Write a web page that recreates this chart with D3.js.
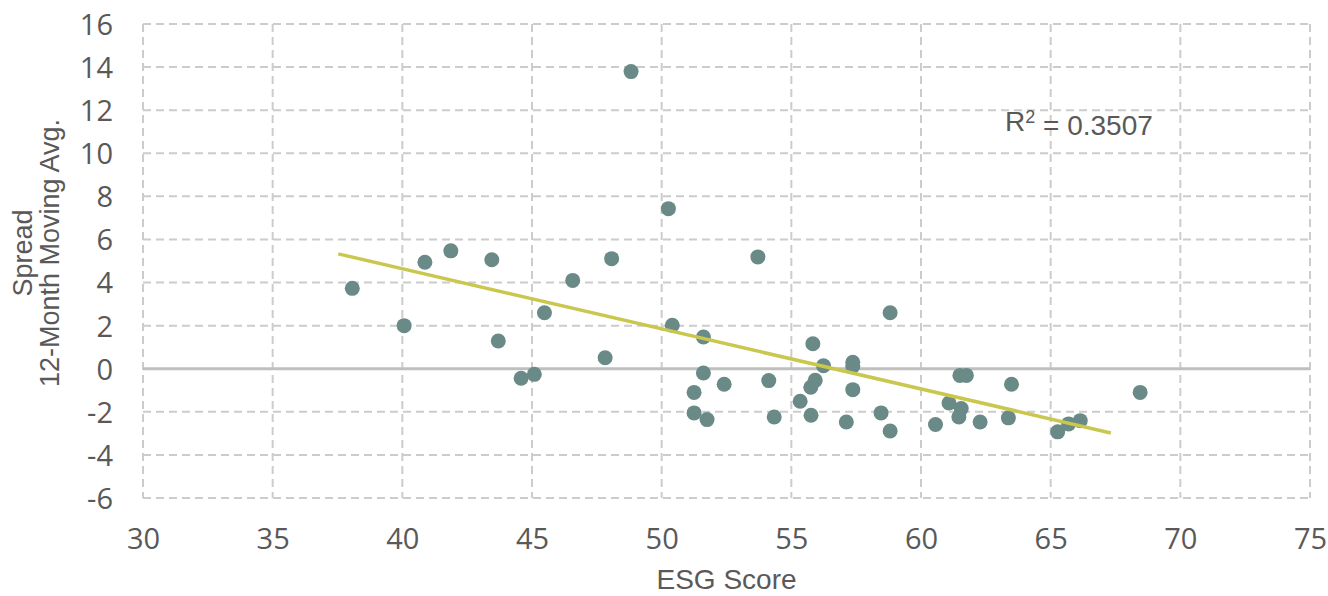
<!DOCTYPE html>
<html>
<head>
<meta charset="utf-8">
<script src="https://cdn.jsdelivr.net/npm/d3@7"></script>
<style>
  body { margin: 0; background: #fff; }
  .tick text { font-family: "Open Sans", sans-serif; font-size: 29px; fill: #595959; }
  .title { font-family: "Liberation Sans", Arial, sans-serif; font-size: 27px; fill: #595959; }
</style>
</head>
<body>
<div class="scatter"></div>
<script>
// DATA
var esgScore = [38.07, 40.07, 40.87, 41.87, 43.45, 43.70, 44.58, 45.09, 45.48, 46.57,
                47.82, 48.07, 48.82, 50.26, 50.41, 51.25, 51.25, 51.61, 51.61, 51.75,
                52.41, 53.71, 54.13, 54.34, 55.34, 55.75, 55.76, 55.83, 55.92, 56.24,
                57.12, 57.37, 57.37, 57.37, 58.46, 58.81, 58.81, 60.56, 61.08, 61.46,
                61.55, 61.50, 61.75, 62.28, 63.37, 63.49, 65.27, 65.69, 66.14, 68.45];
var spread = [3.73, 2.00, 4.94, 5.47, 5.06, 1.29, -0.44, -0.26, 2.60, 4.10,
              0.51, 5.11, 13.79, 7.43, 2.02, -1.10, -2.05, 1.47, -0.20, -2.36,
              -0.72, 5.19, -0.55, -2.24, -1.51, -0.86, -2.16, 1.16, -0.54, 0.14,
              -2.47, 0.30, 0.12, -0.97, -2.05, 2.60, -2.89, -2.59, -1.59, -2.24,
              -1.85, -0.31, -0.31, -2.47, -2.28, -0.72, -2.93, -2.56, -2.41, -1.10];
var trendX = [37.53, 67.32];
var trendY = [5.33, -2.98];
var xTicks = [30, 35, 40, 45, 50, 55, 60, 65, 70, 75];
var yTicks = [-6, -4, -2, 0, 2, 4, 6, 8, 10, 12, 14, 16];
var rSquared = "0.3507";

var width = 1328, height = 596;
var margin = {top: 24, right: 18, bottom: 98, left: 143};
var w = width - margin.left - margin.right,
    h = height - margin.top - margin.bottom;

var svg = d3.select(".scatter").append("svg")
    .attr("width", width)
    .attr("height", height)
  .append("g")
    .attr("transform", "translate(" + margin.left + "," + margin.top + ")");

var x = d3.scaleLinear().domain([30, 75]).range([0, w]);
var y = d3.scaleLinear().domain([-6, 16]).range([h, 0]);

// plain hyphen for negatives, like the original
var fmt = function(d) { return String(d); };

// dashed grid
svg.selectAll(".hgrid")
    .data(yTicks.filter(function(d) { return d !== 0; }))
  .enter().append("line")
    .attr("x1", 0).attr("x2", w)
    .attr("y1", function(d) { return y(d); })
    .attr("y2", function(d) { return y(d); })
    .attr("stroke", "#cccccc")
    .attr("stroke-width", 2)
    .attr("stroke-dasharray", "8,5");

svg.selectAll(".vgrid")
    .data(xTicks)
  .enter().append("line")
    .attr("y1", 0).attr("y2", h)
    .attr("x1", function(d) { return x(d); })
    .attr("x2", function(d) { return x(d); })
    .attr("stroke", "#cccccc")
    .attr("stroke-width", 2)
    .attr("stroke-dasharray", "8,5");

// zero line
svg.append("line")
    .attr("x1", 0).attr("x2", w)
    .attr("y1", y(0)).attr("y2", y(0))
    .attr("stroke", "#bfbfbf")
    .attr("stroke-width", 3);

// axes (labels only)
var yAxis = svg.append("g")
    .call(d3.axisLeft(y).tickValues(yTicks).tickFormat(fmt).tickSize(0).tickPadding(30));
yAxis.select(".domain").remove();
yAxis.selectAll(".tick text").attr("dy", "0.36em");

var xAxis = svg.append("g")
    .attr("transform", "translate(0," + h + ")")
    .call(d3.axisBottom(x).tickValues(xTicks).tickFormat(fmt).tickSize(0).tickPadding(30));
xAxis.select(".domain").remove();

// points
svg.selectAll(".dot")
    .data(esgScore)
  .enter().append("circle")
    .attr("class", "dot")
    .attr("cx", function(d) { return x(d); })
    .attr("cy", function(d, i) { return y(spread[i]); })
    .attr("r", 7.5)
    .attr("fill", "#6a8a88");

// trend line
var line = d3.line()
    .x(function(d) { return x(d); })
    .y(function(d, i) { return y(trendY[i]); });

svg.append("path")
    .datum(trendX)
    .attr("d", line)
    .attr("fill", "none")
    .attr("stroke", "#c9c74d")
    .attr("stroke-width", 3.5);

// R² label
var r2 = svg.append("text")
    .attr("class", "title")
    .attr("x", x(63.24))
    .attr("y", y(11.05))
    .style("font-size", "28px");
r2.append("tspan").text("R");
r2.append("tspan").attr("dy", "-0.4em").style("font-size", "18px").text("2");
r2.append("tspan").attr("dy", "0.4em").text(" = " + rSquared);

// axis titles
svg.append("text")
    .attr("class", "title")
    .attr("text-anchor", "middle")
    .attr("x", w / 2)
    .attr("y", h + 91)
    .style("font-size", "28px")
    .text("ESG Score");

svg.append("text")
    .attr("class", "title")
    .attr("text-anchor", "middle")
    .attr("transform", "translate(" + (-111) + "," + (h / 2 - 8) + ") rotate(-90)")
    .text("Spread");

svg.append("text")
    .attr("class", "title")
    .attr("text-anchor", "middle")
    .attr("transform", "translate(" + (-84) + "," + (h / 2 - 8) + ") rotate(-90)")
    .text("12-Month Moving Avg.");
</script>
</body>
</html>
